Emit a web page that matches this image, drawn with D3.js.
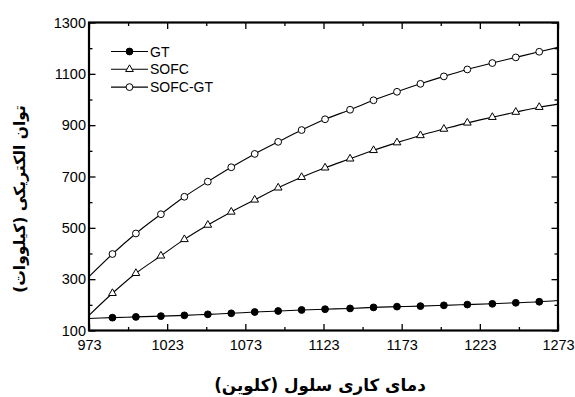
<!DOCTYPE html>
<html lang="fa">
<head>
  <meta charset="UTF-8">
  <title>chart</title>
  <style>
    body { margin: 0; background: #fff; }
  </style>
</head>
<body>
  <svg width="575" height="397" class="svgs"></svg>
  <script src="https://cdn.jsdelivr.net/npm/d3@7/dist/d3.min.js"></script>
  <script>
    // cell temperature (K) - line runs axis to axis, markers on the inner points
    const temps = [973, 988, 1003, 1019, 1034, 1049, 1064, 1079, 1094, 1109, 1124,
      1140, 1155, 1170, 1185, 1200, 1215, 1231, 1246, 1261, 1273]
    const gtValues = [147, 150, 153, 156, 159, 163, 167, 172, 176, 180, 183,
      186, 190, 193, 195, 198, 201, 204, 208, 212, 217]
    const sofcValues = [159, 245, 323, 391, 455, 511, 562, 609, 656, 697, 734,
      769, 802, 832, 860, 885, 909, 931, 951, 970, 982]
    const hybridValues = [310, 398, 478, 553, 621, 680, 736, 788, 835, 881, 923,
      960, 997, 1030, 1061, 1090, 1117, 1142, 1164, 1186, 1203]
    const seriesNames = ['GT', 'SOFC', 'SOFC-GT']
    const xTicks = [973, 1023, 1073, 1123, 1173, 1223, 1273]
    const xMinorTicks = [998, 1048, 1098, 1148, 1198, 1248]
    const yTicks = [100, 300, 500, 700, 900, 1100, 1300]
    const yMinorTicks = [200, 400, 600, 800, 1000, 1200]
    const xTitle = 'دمای کاری سلول (کلوین)'
    const yTitle = 'توان الکتریکی (کیلووات)'

    const mainsvg = d3.select('.svgs')
    const margin = { top: 22.5, right: 17, bottom: 66.5, left: 89 }
    const width = +mainsvg.attr('width')
    const height = +mainsvg.attr('height')
    const innerWidth = width - margin.left - margin.right
    const innerHeight = height - margin.top - margin.bottom

    const xScale = d3.scaleLinear().domain([973, 1273]).range([0, innerWidth])
    const yScale = d3.scaleLinear().domain([100, 1300]).range([innerHeight, 0])

    const g = mainsvg.append('g')
      .attr('transform', `translate(${margin.left}, ${margin.top})`)

    const tickFont = '"Liberation Sans", Arial, sans-serif'

    // axes: ticks point inward, labels only bottom/left majors
    function drawAxis(axis, ticks, size, labels, tx, ty) {
      const a = axis.tickValues(ticks).tickSizeInner(-size).tickSizeOuter(0)
        .tickFormat(d3.format('d'))
      const sel = g.append('g').attr('transform', `translate(${tx}, ${ty})`).call(a)
      sel.select('.domain').remove()
      sel.selectAll('.tick line').attr('stroke', '#000').attr('stroke-width', 1.3)
      if (!labels) sel.selectAll('.tick text').remove()
      sel.selectAll('.tick text')
        .attr('font-family', tickFont).attr('font-size', '14.5px').attr('fill', '#000')
      return sel
    }
    const xb = drawAxis(d3.axisBottom(xScale), xTicks, 6.5, true, 0, innerHeight)
    xb.selectAll('.tick text').attr('y', 9)
    drawAxis(d3.axisBottom(xScale), xMinorTicks, 3.5, false, 0, innerHeight)
    drawAxis(d3.axisTop(xScale), xTicks, 6.5, false, 0, 0)
    drawAxis(d3.axisTop(xScale), xMinorTicks, 3.5, false, 0, 0)
    const yl = drawAxis(d3.axisLeft(yScale), yTicks, 6.5, true, 0, 0)
    yl.selectAll('.tick text').attr('x', -3)
    drawAxis(d3.axisLeft(yScale), yMinorTicks, 3.5, false, 0, 0)
    drawAxis(d3.axisRight(yScale), yTicks, 6.5, false, innerWidth, 0)
    drawAxis(d3.axisRight(yScale), yMinorTicks, 3.5, false, innerWidth, 0)

    // frame
    g.append('rect')
      .attr('width', innerWidth).attr('height', innerHeight)
      .attr('fill', 'none').attr('stroke', '#000').attr('stroke-width', 2.2)

    const seriesData = [gtValues, sofcValues, hybridValues]
    const line = d3.line()
      .x((d, i) => xScale(temps[i]))
      .y(d => yScale(d))
      .curve(d3.curveMonotoneX)

    function drawMarker(sel, k) {
      if (k === 1) {
        sel.append('path')
          .attr('d', d3.symbol().type(d3.symbolTriangle).size(26)())
          .attr('fill', '#fff').attr('stroke', '#000').attr('stroke-width', 1)
      } else {
        sel.append('circle').attr('r', 3.4)
          .attr('fill', k === 0 ? '#000' : '#fff')
          .attr('stroke', '#000').attr('stroke-width', 1)
      }
    }

    seriesData.forEach((vals, k) => {
      g.append('path')
        .attr('d', line(vals))
        .attr('fill', 'none').attr('stroke', '#000').attr('stroke-width', 1.1)
      vals.forEach((v, i) => {
        if (i === 0 || i === vals.length - 1) return
        const m = g.append('g')
          .attr('transform', `translate(${xScale(temps[i])}, ${yScale(v)})`)
        drawMarker(m, k)
      })
    })

    // legend
    seriesNames.forEach((name, k) => {
      const ly = 29 + k * 17.8
      const lg = g.append('g').attr('transform', `translate(22, ${ly})`)
      lg.append('line').attr('x1', 0).attr('x2', 37)
        .attr('stroke', '#000').attr('stroke-width', 1.1)
      const m = lg.append('g').attr('transform', 'translate(18.5, 0)')
      drawMarker(m, k)
      lg.append('text').text(name)
        .attr('x', 39).attr('y', 5)
        .attr('font-family', tickFont).attr('font-size', '14px')
    })

    // axis titles
    mainsvg.append('text').text(xTitle)
      .attr('x', 320).attr('y', 391)
      .attr('text-anchor', 'middle')
      .attr('font-family', '"DejaVu Sans", sans-serif')
      .attr('font-weight', 'bold').attr('font-size', '16.8px')
      .attr('direction', 'rtl')

    mainsvg.append('text').text(yTitle)
      .attr('transform', 'translate(25, 199) rotate(-90)')
      .attr('text-anchor', 'middle')
      .attr('font-family', '"DejaVu Sans", sans-serif')
      .attr('font-weight', 'bold').attr('font-size', '15.5px')
      .attr('direction', 'rtl')
  </script>
</body>
</html>
